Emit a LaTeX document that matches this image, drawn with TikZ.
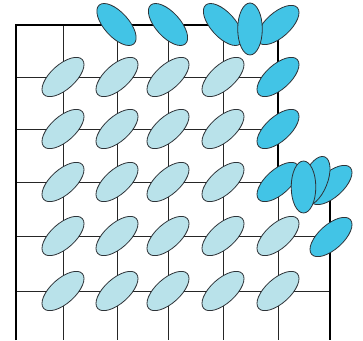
\documentclass[tikz,border=0pt]{standalone}
\definecolor{darkc}{RGB}{66,196,230}
\definecolor{litec}{RGB}{185,226,234}
\definecolor{edgec}{RGB}{45,50,55}
\tikzset{
  thin grid/.style={line width=0.9pt, draw=black!85},
  thick border/.style={line width=2.2pt, draw=black, line join=miter},
  lite/.style={fill=litec, draw=edgec, line width=0.8pt},
  dark/.style={fill=darkc, draw=edgec, line width=0.8pt},
}
\newcommand\elli[4]{\draw[#1,shift={(#2,#3)},rotate=#4] (0,0) ellipse [x radius=26, y radius=12.3];}
\begin{document}
\begin{tikzpicture}[x=1pt,y=1pt]
\useasboundingbox (0,0) rectangle (363,340);
% thin grid
\foreach \xx in {63,117,168,223} \draw[thin grid] (\xx,315) -- (\xx,0);
\draw[thin grid] (278,158) -- (278,0);
\foreach \yy in {263,211} \draw[thin grid] (16,\yy) -- (278,\yy);
\foreach \yy in {104,49} \draw[thin grid] (16,\yy) -- (330,\yy);
\draw[thin grid] (16,158) -- (278,158);
% thick border
\draw[thick border] (16,0) -- (16,315) -- (278,315) -- (278,158) -- (330,158) -- (330,0);
% light ellipses
\foreach \yy in {263,211,158} \foreach \xx in {63,117,168,223} {\elli{lite}{\xx}{\yy}{42}}
\foreach \yy in {104,49} \foreach \xx in {63,117,168,223,278} {\elli{lite}{\xx}{\yy}{42}}
% dark ellipses, right column
\elli{dark}{278}{263}{42}
\elli{dark}{278}{211}{42}
\elli{dark}{278}{158}{42}
\elli{dark}{331}{103}{42}
% right fan
\elli{dark}{331}{155}{42}
\elli{dark}{315}{159}{68}
\elli{dark}{303.5}{153}{90}
% top fan
\elli{dark}{116.5}{315.5}{-48}
\elli{dark}{168}{315.5}{-48}
\elli{dark}{223}{315.5}{-48}
\elli{dark}{278}{315}{42}
\elli{dark}{250}{311}{90}
\end{tikzpicture}
\end{document}
